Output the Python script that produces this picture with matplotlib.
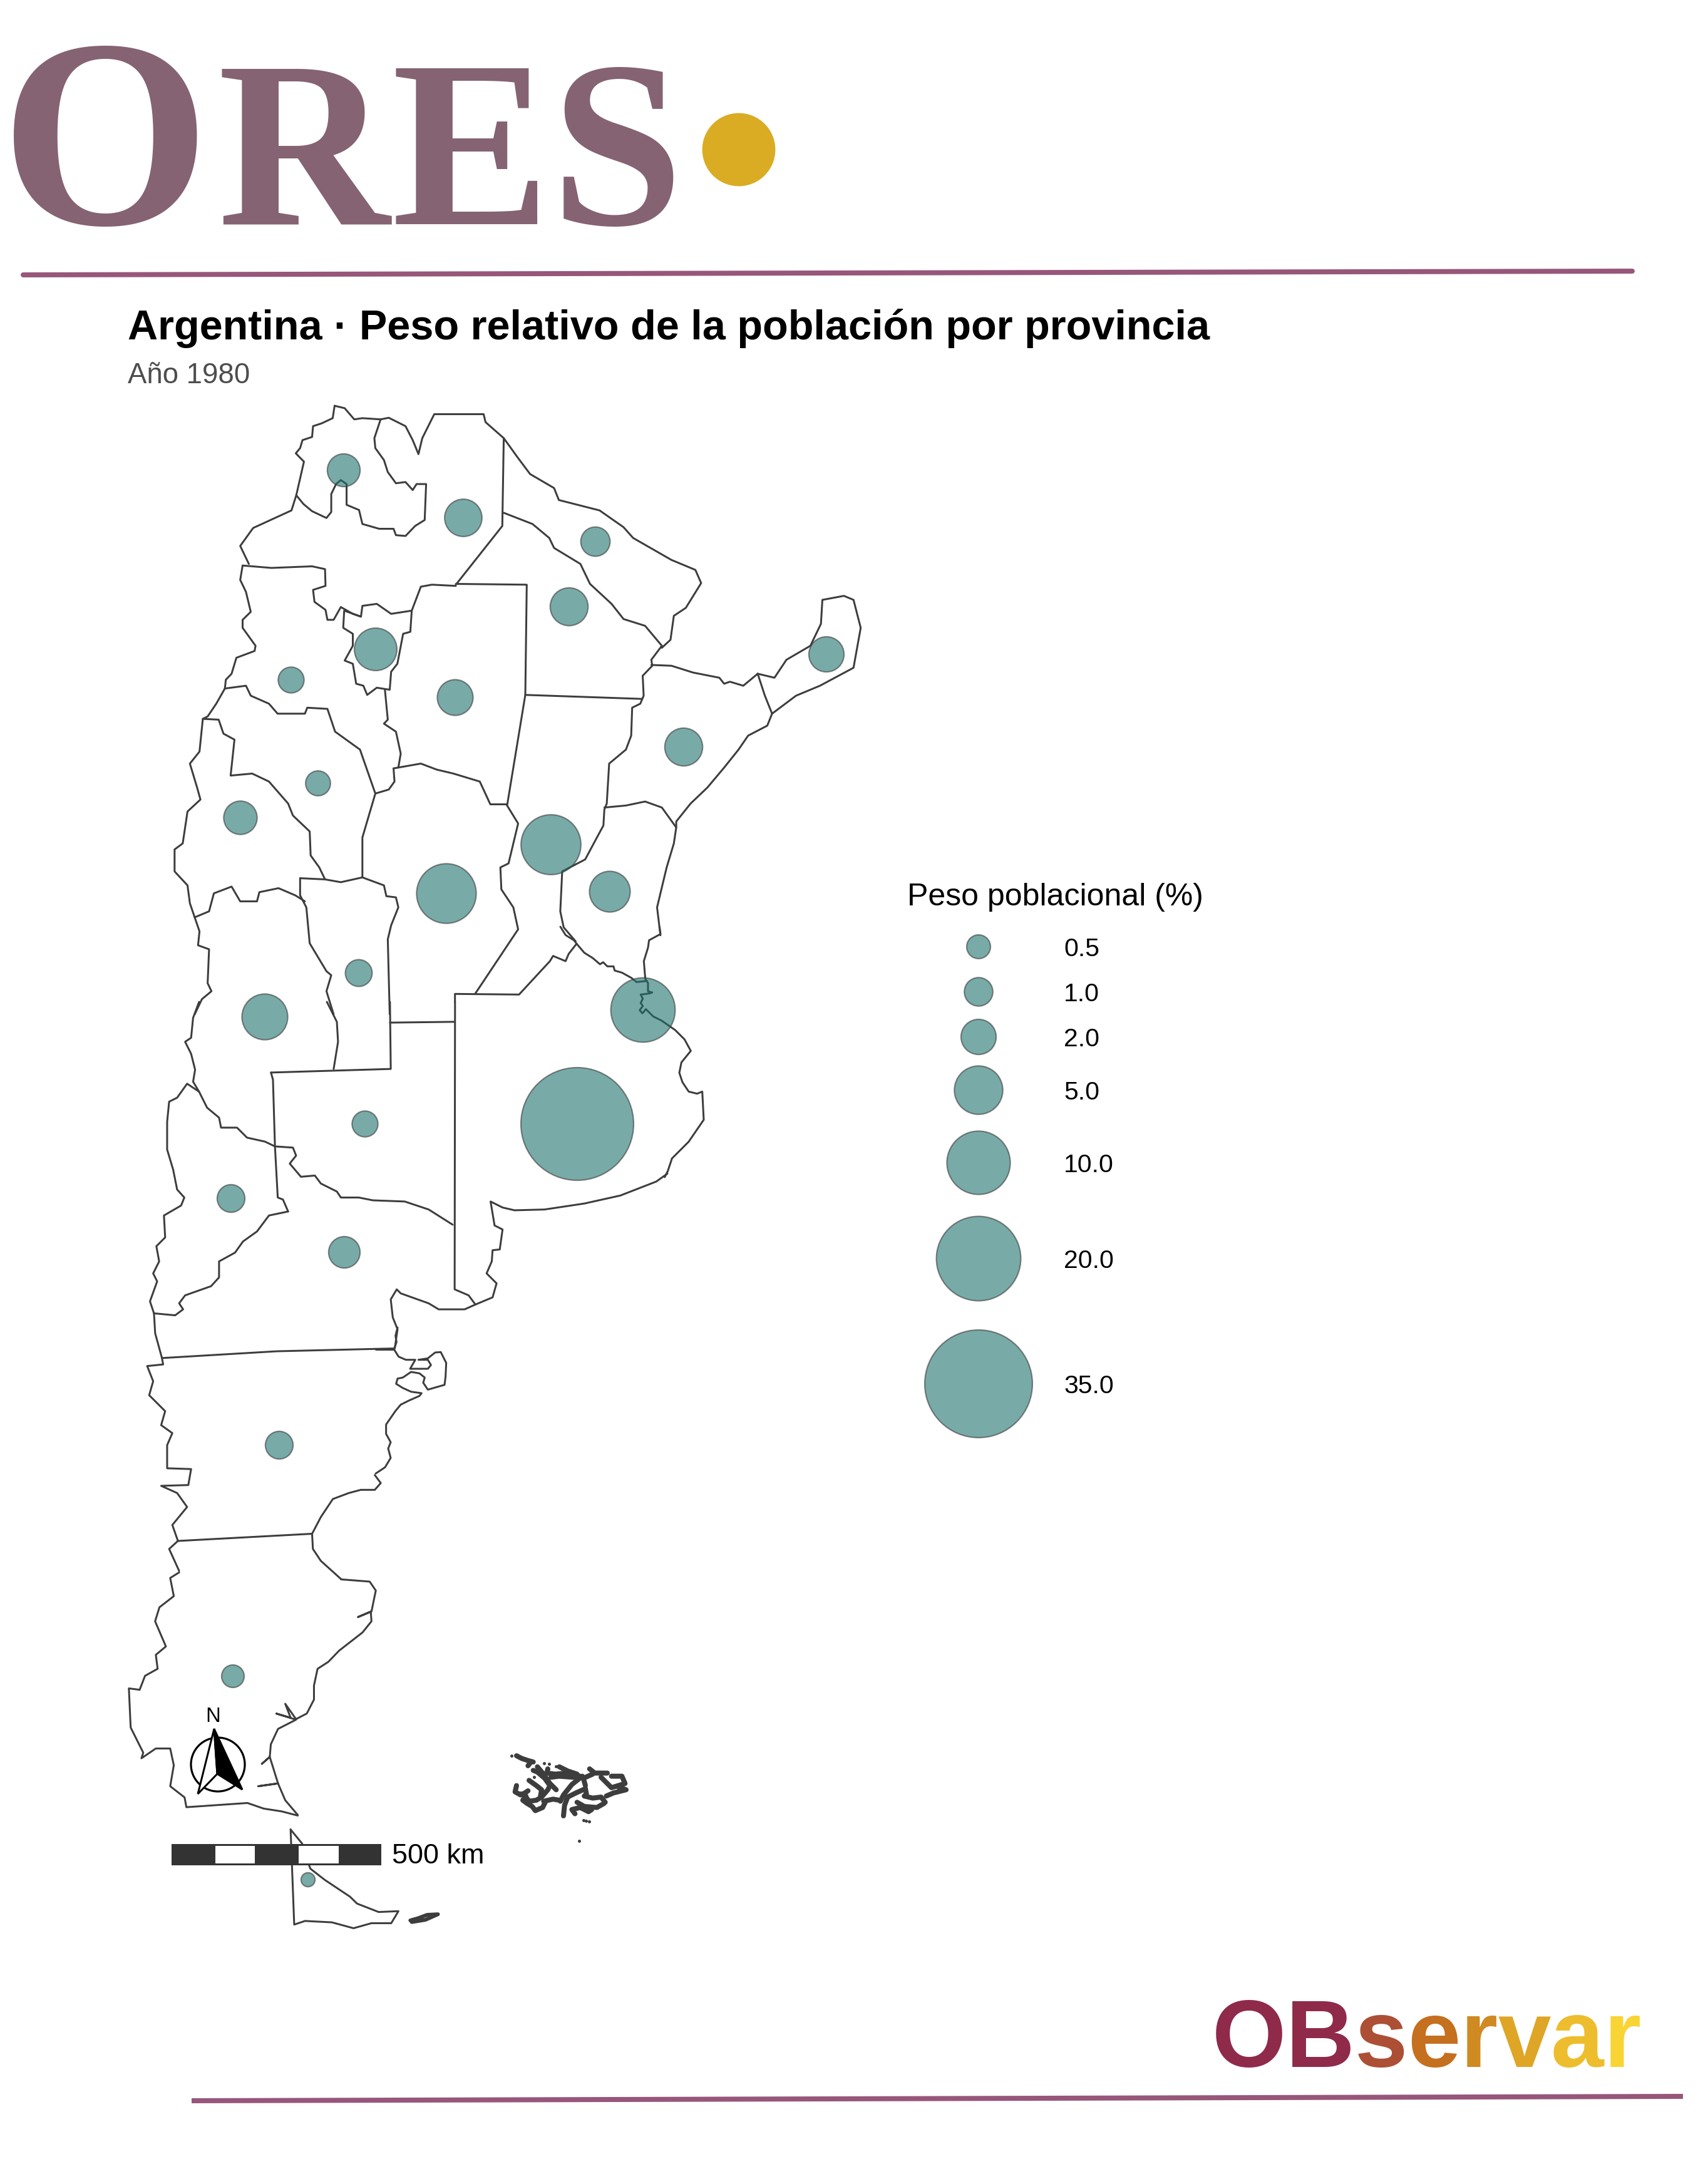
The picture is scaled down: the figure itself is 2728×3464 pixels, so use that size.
"""Argentina 1980: population share by province, proportional circles over province outlines."""

import matplotlib

matplotlib.use("Agg")
import matplotlib.pyplot as plt
import numpy as np
from matplotlib.patches import Circle, Polygon, Rectangle

plt.rcParams["font.family"] = ["Liberation Sans", "DejaVu Sans"]

# province share (%) and where its circle sits, in reference pixels
provinces = ["Jujuy", "Salta", "Formosa", "Chaco", "Tucumán", "Santiago del Estero",
             "Catamarca", "La Rioja", "San Juan", "Córdoba", "Santa Fe", "Corrientes",
             "Misiones", "Entre Ríos", "San Luis", "Mendoza", "CABA", "Buenos Aires",
             "La Pampa", "Neuquén", "Río Negro", "Chubut", "Santa Cruz", "Tierra del Fuego"]
share = [1.6, 2.4, 1.1, 2.5, 3.5, 2.1, 0.7, 0.6, 1.7, 8.6, 8.7, 2.5,
         2.0, 3.1, 0.8, 4.3, 10.4, 38.8, 0.7, 0.9, 1.4, 0.9, 0.4, 0.01]
centre_x = [549, 740, 951, 909, 600, 727, 465, 508, 384, 713, 880, 1092,
            1320, 974, 573, 423, 1027, 922, 583, 369, 550, 446, 372, 492]
centre_y = [751, 827, 865, 969, 1037, 1114, 1086, 1251, 1306, 1427, 1349, 1193,
            1045, 1424, 1554, 1624, 1613, 1795, 1795, 1914, 2000, 2308, 2677, 3002]

legend_values = [0.5, 1.0, 2.0, 5.0, 10.0, 20.0, 35.0]
legend_y = [1512, 1584, 1656, 1741, 1857, 2010, 2210]

jujuy = [(437, 44), (433, 75), (410, 88), (392, 95), (390, 122), (370, 130), (365, 150), (356, 163),
         (373, 184), (357, 268), (372, 290), (390, 308), (420, 325), (430, 310), (430, 265),
         (440, 240), (450, 230), (462, 240), (462, 292), (488, 305), (495, 340), (530, 352),
         (560, 352), (565, 368), (585, 370), (605, 345), (625, 330), (628, 240), (608, 240),
         (600, 255), (585, 235), (565, 238), (548, 210), (540, 180), (522, 150), (520, 125),
         (533, 78), (495, 75), (478, 78), (458, 50), (437, 44)]
salta_top = [(533, 78), (550, 74), (585, 95), (600, 130), (612, 165), (620, 125), (645, 65),
             (748, 65), (752, 85), (790, 125), (787, 345), (690, 492)]
salta_west = [(357, 268), (347, 306), (267, 350), (240, 395), (258, 440)]
salta_south = [(245, 444), (305, 450), (390, 446), (417, 453), (418, 495), (392, 505), (395, 535),
               (418, 555), (422, 580), (435, 580), (450, 548), (475, 565), (492, 572), (495, 545),
               (525, 540), (555, 565), (598, 557), (617, 497), (640, 492), (690, 495)]
santiago_ne = [(690, 490), (838, 492), (835, 768), (797, 1045)]
cordoba_north = [(797, 1042), (762, 1042), (740, 985), (685, 965), (650, 955), (617, 940), (560, 952)]
santiago_west = [(542, 755), (548, 830), (540, 840), (565, 860), (575, 915), (570, 950)]
tucuman = [(598, 557), (595, 610), (580, 615), (568, 690), (555, 710), (552, 755), (525, 750),
           (505, 768), (497, 745), (482, 740), (475, 690), (458, 682), (475, 645), (475, 615),
           (455, 600), (457, 557), (492, 572)]
catamarca_west = [(245, 444), (240, 480), (252, 510), (262, 560), (245, 580), (245, 600), (272, 645),
                  (270, 658), (232, 675), (222, 715), (210, 730), (208, 752)]
catamarca_south = [(208, 752), (252, 745), (262, 770), (300, 790), (318, 815), (375, 815), (380, 800),
                   (422, 803), (438, 860), (490, 905), (522, 1015), (550, 1005), (562, 985), (560, 952)]
rioja_west = [(208, 752), (190, 790), (172, 822), (162, 828), (195, 830), (205, 865), (228, 880),
              (220, 970), (265, 965), (300, 985), (340, 1040), (350, 1070), (385, 1110), (387, 1170),
              (405, 1200), (417, 1230)]
rioja_east = [(522, 1015), (495, 1125), (495, 1225)]
sanjuan_west = [(162, 828), (155, 910), (135, 940), (150, 1000), (157, 1030), (130, 1060), (120, 1140),
                (103, 1155), (103, 1210), (130, 1245), (135, 1290), (145, 1325)]
sanjuan_south = [(145, 1325), (175, 1310), (185, 1265), (222, 1248), (240, 1285), (275, 1285),
                 (280, 1262), (320, 1252), (355, 1270), (375, 1285)]
sanluis_north = [(365, 1227), (417, 1230), (450, 1237), (495, 1225), (540, 1245), (545, 1272),
                 (565, 1275), (570, 1300), (555, 1345), (548, 1380), (552, 1568)]
sanluis_west = [(365, 1227), (365, 1270), (378, 1300), (385, 1390), (420, 1460), (430, 1470),
                (420, 1510), (435, 1568)]
mendoza_nw = [(145, 1325), (155, 1360), (152, 1395), (175, 1405), (172, 1490), (180, 1510),
              (160, 1530), (145, 1568)]
cordoba_east = [(797, 1045), (820, 1090), (800, 1190), (783, 1200), (785, 1255), (810, 1300),
                (820, 1355), (730, 1517)]
chaco_south = [(835, 768), (1078, 778)]
chaco_north = [(790, 312), (850, 340), (885, 375), (895, 400), (950, 440), (970, 490), (1015, 540),
               (1040, 578), (1085, 595), (1120, 645)]
formosa_north = [(790, 125), (820, 175), (845, 215), (895, 250), (905, 280), (990, 306), (1040, 348),
                 (1060, 375), (1140, 430), (1190, 455), (1202, 488), (1170, 550), (1145, 570),
                 (1138, 630), (1120, 650)]
parana_upper = [(1120, 645), (1098, 680), (1100, 695), (1080, 720), (1082, 770), (1075, 790),
                (1058, 800), (1056, 870), (1045, 905), (1010, 940), (1005, 1040), (1000, 1055),
                (998, 1095), (980, 1135), (960, 1180), (912, 1210), (908, 1310), (915, 1350), (940, 1385)]
corrientes_north = [(1098, 693), (1140, 695), (1185, 712), (1240, 725), (1250, 740), (1262, 735),
                    (1290, 745), (1320, 715)]
corrientes_east = [(1350, 815), (1340, 845), (1300, 870), (1280, 905), (1250, 950), (1215, 1000),
                   (1180, 1040), (1150, 1085), (1150, 1100)]
misiones = [(1320, 715), (1335, 770), (1350, 815), (1400, 770), (1450, 745), (1520, 700), (1535, 600),
            (1520, 530), (1500, 520), (1455, 530), (1452, 590), (1430, 645), (1380, 680),
            (1355, 725), (1320, 715)]
entrerios_east = [(1000, 1050), (1045, 1045), (1085, 1035), (1120, 1050), (1150, 1100), (1145, 1140),
                  (1130, 1200), (1110, 1300), (1117, 1370)]
north_lines = [jujuy, salta_top, salta_west, salta_south, santiago_ne, cordoba_north, santiago_west,
               tucuman, catamarca_west, catamarca_south, rioja_west, rioja_east, sanjuan_west,
               sanjuan_south, sanluis_north, sanluis_west, mendoza_nw, cordoba_east,
               chaco_south, chaco_north, formosa_north, parana_upper, corrientes_north,
               corrientes_east, misiones, entrerios_east]

colorado = [(185, 0), (170, 40), (165, 90), (150, 100), (165, 130), (175, 170), (170, 200), (185, 225),
            (205, 265), (235, 290), (240, 315), (280, 315), (305, 340), (350, 350), (375, 362),
            (420, 365), (428, 385), (412, 405), (440, 438), (475, 435), (490, 455), (530, 475),
            (540, 490), (585, 490), (620, 497), (700, 500), (760, 520), (820, 558)]
neuquen_west = [(185, 225), (155, 205), (130, 240), (110, 250), (105, 300), (105, 370), (120, 420),
                (130, 470), (148, 490), (140, 510), (97, 535), (100, 590), (78, 612), (85, 650),
                (70, 680), (80, 700), (62, 750), (72, 780)]
neuquen_south = [(408, 525), (360, 535), (330, 575), (295, 600), (275, 628), (235, 650), (235, 690),
                 (215, 712), (150, 735), (135, 755), (145, 770), (125, 785), (72, 780)]
neuquen_east = [(365, 177), (370, 195), (375, 362), (382, 490), (395, 495), (408, 525)]
pampa_north = [(365, 177), (665, 168), (663, 0)]
mendoza_east = [(505, 0), (530, 50), (533, 100), (522, 168)]
cordoba_south = [(663, 52), (825, 50)]
buenos_aires_west = [(826, 0), (825, 720), (860, 735), (877, 758)]
rionegro_west = [(72, 780), (75, 830), (92, 892)]
chubut_north = [(92, 892), (380, 875), (672, 868)]
rionegro_coast = [(877, 758), (850, 770), (785, 770), (760, 755), (690, 730), (680, 720), (665, 745),
                  (670, 790), (682, 820), (675, 868)]
buenos_aires_coast = [(877, 758), (920, 740), (930, 705), (905, 680), (918, 650), (920, 622), (938, 620),
                      (945, 570), (925, 560), (915, 500), (945, 515), (975, 522), (1050, 520),
                      (1150, 505), (1240, 485), (1330, 450), (1358, 430)]
chubut_coast = [(625, 1185), (640, 1205), (625, 1222), (590, 1222), (560, 1230), (520, 1245), (490, 1290),
                (468, 1332)]
chubut_south = [(132, 1350), (468, 1332)]
chubut_west = [(92, 892), (95, 908), (55, 912), (70, 950), (60, 985), (100, 1025), (90, 1060), (118, 1080),
               (105, 1110), (105, 1168), (165, 1170), (158, 1210), (90, 1212), (130, 1230), (155, 1265),
               (118, 1310), (132, 1350)]
santacruz_nw = [(132, 1350), (110, 1370), (135, 1425)]
santacruz_ne = [(468, 1332), (470, 1370), (490, 1400), (540, 1445)]
middle_lines = [colorado, neuquen_west, neuquen_south, neuquen_east, pampa_north, mendoza_east,
                cordoba_south, buenos_aires_west, rionegro_west, chubut_north, rionegro_coast,
                buenos_aires_coast, chubut_coast, chubut_south, chubut_west,
                santacruz_nw, santacruz_ne]

santacruz_west = [(185, 25), (160, 45), (170, 110), (130, 150), (118, 200), (148, 290), (120, 320),
                  (125, 370), (90, 395), (75, 445), (45, 440), (50, 580), (85, 670), (80, 690), (120, 655),
                  (160, 655), (170, 715), (160, 790), (200, 830), (205, 865), (375, 850), (420, 870),
                  (470, 880), (515, 895)]
santacruz_coast = [(635, 50), (715, 58), (732, 90), (720, 165), (682, 185), (718, 165), (720, 200),
                   (695, 240), (665, 270), (630, 305), (600, 345), (570, 370), (560, 430), (560, 480),
                   (540, 530), (510, 550), (480, 495), (495, 545), (455, 530), (510, 552), (460, 585),
                   (440, 640), (437, 685), (415, 710), (437, 685), (460, 780), (405, 790), (460, 780),
                   (480, 840), (515, 893)]
fuego = [(495, 945), (527, 995), (545, 1068), (550, 1085), (590, 1125), (660, 1185), (680, 1210), (740, 1240),
         (795, 1237), (775, 1280), (720, 1280), (670, 1298), (610, 1277), (535, 1272), (505, 1285), (495, 945)]
estados = [(828, 1270), (850, 1262), (875, 1250), (905, 1248), (870, 1268), (832, 1276)]
south_lines = [santacruz_west, santacruz_coast, fuego]

# crop around the Rio de la Plata
santafe_south = [(-100, 360), (-100, 322), (207, 325), (355, 165), (370, 140), (430, 165), (445, 130), (480, 85)]
entrerios_south = [(405, 0), (430, 40), (470, 65), (490, 90), (520, 125), (560, 150), (595, 180), (610, 170),
                   (630, 190), (660, 190), (665, 210), (700, 220), (745, 245), (770, 265), (820, 260)]
plata_coast = [(880, 0), (885, 35), (830, 65), (825, 100), (805, 165), (812, 250), (825, 270), (825, 310),
               (845, 315), (830, 320), (790, 325), (800, 345), (790, 365), (800, 380), (785, 400), (798, 415),
               (815, 395), (850, 430), (890, 450), (955, 495), (1000, 540), (1030, 595), (985, 650), (975, 700),
               (990, 745), (1020, 790), (1060, 800), (1085, 790), (1092, 925), (1020, 1030), (940, 1110),
               (920, 1170), (905, 1200)]
plata_lines = [santafe_south, entrerios_south, plata_coast]

# crop around the Valdes peninsula
chubut_junction = [(0, 105), (88, 105)]
valdes_coast = [(88, 105), (110, 140), (145, 155), (190, 155), (165, 198), (200, 198), (250, 198), (265, 180),
                (250, 155), (205, 155), (250, 148), (285, 120), (312, 118), (338, 170), (335, 235), (330, 275),
                (250, 298), (228, 265), (235, 240), (210, 220), (170, 213), (130, 240), (105, 245), (98, 270),
                (130, 290), (170, 308), (220, 315), (210, 328), (160, 350), (120, 370), (95, 400), (50, 465),
                (50, 510), (72, 550), (60, 580), (72, 625), (45, 670), (0, 700)]
chubut_river_end = [(105, 0), (95, 40), (100, 70), (88, 105)]
valdes_lines = [chubut_junction, valdes_coast, chubut_river_end]

# crop around the Malvinas, drawn as heavy strokes
falkland_strokes = [
    [(75, 102), (100, 115), (130, 125), (155, 132)],
    [(130, 150), (145, 130)],
    [(75, 245), (68, 275), (95, 290), (115, 280), (130, 270)],
    [(95, 285), (120, 295), (105, 315), (125, 330), (150, 345), (165, 365), (200, 350), (215, 320)],
    [(120, 300), (135, 320), (170, 315), (195, 300), (225, 265), (235, 245), (210, 210), (175, 180), (155, 172)],
    [(175, 155), (200, 185), (235, 235), (265, 265)],
    [(135, 220), (170, 245), (195, 265), (190, 295)],
    [(205, 320), (250, 310), (280, 315)],
    [(225, 165), (220, 185), (260, 190), (320, 185), (365, 195), (390, 205), (345, 205), (280, 200), (240, 205)],
    [(280, 155), (320, 175), (365, 190)],
    [(285, 320), (300, 290), (340, 240), (390, 200)],
    [(300, 390), (305, 340), (320, 300), (360, 280), (405, 260)],
    [(355, 380), (340, 360), (380, 350), (420, 370), (435, 360)],
    [(365, 325), (400, 345), (460, 350), (495, 330)],
    [(400, 295), (440, 305), (480, 300), (500, 325)],
    [(405, 260), (410, 285), (400, 295)],
    [(405, 245), (395, 210), (440, 190)],
    [(425, 165), (450, 185), (510, 185)],
    [(480, 205), (510, 235), (530, 255), (595, 235), (580, 200), (530, 200)],
    [(505, 295), (540, 280), (600, 265), (560, 250)],
]
falkland_islets_x = [52, 208, 232, 264, 281, 395, 408, 422, 375, 160]
falkland_islets_y = [102, 138, 141, 152, 155, 412, 415, 416, 509, 203]

LINE_COLOR = "#3d3d3d"
CIRCLE_COLOR = "#1e736c"
px = 72 / 200  # points per reference pixel at this dpi


def radius(v):
    return 9.9 + 12.86 * np.sqrt(v)


def draw_lines(ax, lines, left, top, fx, fy, lw=3.0):
    for line in lines:
        pts = np.array(line, dtype=float)
        ax.plot(left + pts[:, 0] / fx, top + pts[:, 1] / fy, color=LINE_COLOR,
                lw=lw * px, solid_joinstyle="round", solid_capstyle="round", zorder=2)


fig = plt.figure(figsize=(13.64, 17.32), dpi=200)
ax = fig.add_axes([0, 0, 1, 1])
ax.set_xlim(0, 2728)
ax.set_ylim(3464, 0)
ax.axis("off")

# header logo
for letter, x, em in zip("ORES", [168, 485, 752, 985], [430, 380, 380, 380]):
    ax.text(x, 358, letter, family="Liberation Serif", weight="bold", size=em * px,
            color="#856373", ha="center", va="baseline")
ax.add_patch(Circle((1180, 239), 57, color="#d9ac23", zorder=2))
ax.plot([37, 2607], [439, 433], color="#97567a", lw=8 * px, solid_capstyle="round")

ax.text(204, 542, "Argentina · Peso relativo de la población por provincia",
        size=66.7 * px, weight="bold", color="black", va="baseline")
ax.text(204, 612, "Año 1980", size=45.6 * px, color="#4d4d4d", va="baseline")

# map
draw_lines(ax, north_lines, 200, 620, 1.3067, 1.568)
draw_lines(ax, middle_lines, 200, 1600, 1.568, 1.568)
draw_lines(ax, south_lines, 180, 2500, 1.742, 2.24)
draw_lines(ax, [estados], 180, 2500, 1.742, 2.24, lw=6.0)
draw_lines(ax, plata_lines, 760, 1480, 3, 3)
draw_lines(ax, valdes_lines, 600, 2120, 3, 3)
draw_lines(ax, falkland_strokes, 800, 2770, 3, 3, lw=8.0)
ax.scatter(800 + np.array(falkland_islets_x) / 3, 2770 + np.array(falkland_islets_y) / 3,
           s=(5 * px) ** 2, color=LINE_COLOR, linewidths=0, zorder=2)

sizes = (2 * radius(np.array(share)) * px) ** 2
ax.scatter(centre_x, centre_y, s=sizes, color=CIRCLE_COLOR, alpha=0.6,
           edgecolors=LINE_COLOR, linewidths=2.2 * px, zorder=3)

# legend
ax.text(1449, 1446, "Peso poblacional (%)", size=50 * px, color="black", va="baseline")
sizes = (2 * radius(np.array(legend_values)) * px) ** 2
ax.scatter([1563] * len(legend_values), legend_y, s=sizes, color=CIRCLE_COLOR, alpha=0.6,
           edgecolors=LINE_COLOR, linewidths=2.2 * px, zorder=3)
for v, y in zip(legend_values, legend_y):
    ax.text(1699, y, f"{v:.1f}", size=41 * px, color="black", va="center_baseline")

# north arrow
ax.text(340, 2741, "N", size=33 * px, color="black", ha="center", va="center")
ax.add_patch(Circle((348, 2818), 43, fc="white", ec="black", lw=3.2 * px, zorder=4))
ax.add_patch(Polygon([(342, 2761), (316, 2865), (347, 2833)], closed=True, fc="white", ec="black",
                     lw=3.0 * px, zorder=5))
ax.add_patch(Polygon([(342, 2761), (347, 2833), (387, 2858)], closed=True, fc="black", ec="black",
                     lw=3.0 * px, zorder=5))

# scale bar
bar_edges = [275, 342, 408, 475, 542, 607]
for i in range(5):
    ax.add_patch(Rectangle((bar_edges[i], 2946), bar_edges[i + 1] - bar_edges[i], 31,
                           fc="#333333" if i % 2 == 0 else "white", ec="#333333", lw=3.0 * px, zorder=4))
ax.text(626, 2976, "500 km", size=45 * px, color="black", va="baseline")

# footer logo, one colour per letter
brand = "OBservar"
brand_colors = ["#8f2a4b", "#8f2a4b", "#ac4f35", "#c4701f", "#d08a22", "#dfa526", "#edbd2d", "#f8d435"]
brand_advance = [0.778, 0.722, 0.556, 0.556, 0.389, 0.556, 0.556, 0.389]
x = 1936
for letter, c, adv in zip(brand, brand_colors, brand_advance):
    ax.text(x, 3301, letter, size=152 * px, weight="bold", color=c, va="baseline")
    x += adv * 152
ax.plot([306, 2688], [3355, 3348], color="#97567a", lw=8 * px, solid_capstyle="butt")

fig.savefig("out.png", dpi=200)
